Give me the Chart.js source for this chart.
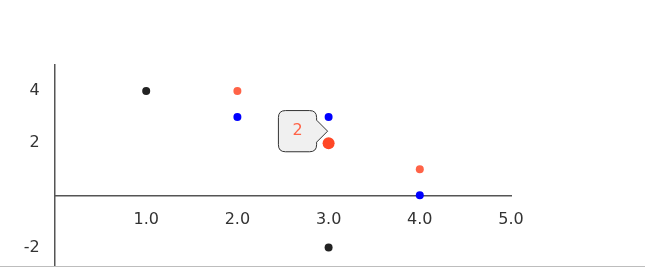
<!DOCTYPE html>
<html><head><meta charset="utf-8">
<script src="https://cdn.jsdelivr.net/npm/chart.js@4/dist/chart.umd.min.js"></script>
<style>
html,body{margin:0;padding:0;background:#fff;}
#wrap{position:relative;width:645px;height:266px;border-bottom:1px solid #bdbdbd;overflow:hidden;}
#inner{position:absolute;left:0;top:0;width:645px;height:279px;}
</style></head>
<body>
<div id="wrap"><div id="inner"><canvas id="c"></canvas></div></div>
<script>
const seriesNames = ['A', 'B', 'C'];
const seriesA = [{x:1, y:4}, {x:3, y:-2}];
const seriesB = [{x:2, y:4}, {x:3, y:2}, {x:4, y:1}];
const seriesC = [{x:2, y:3}, {x:3, y:3}, {x:4, y:0}];
const xTicks = [1, 2, 3, 4, 5];
const yTicks = [-2, 2, 4];
const colors = ['#222222', '#ff6347', '#0000ff'];

Chart.Tooltip.positioners.shifted = function(items) {
  if (!items.length) return false;
  const el = items[0].element;
  return {x: el.x + 1, y: el.y - 12};
};

const chart = new Chart(document.getElementById('c'), {
  type: 'scatter',
  data: {
    datasets: [seriesA, seriesB, seriesC].map((d, i) => ({
      label: seriesNames[i],
      data: d,
      backgroundColor: colors[i],
      borderColor: colors[i],
      pointRadius: 4,
      pointHoverRadius: 6,
      pointBorderWidth: 0,
      pointHoverBorderWidth: 0
    }))
  },
  options: {
    responsive: true,
    maintainAspectRatio: false,
    animation: false,
    events: [],
    layout: {padding: {left: 55, top: 65, right: 134, bottom: 0}},
    plugins: {
      legend: {display: false},
      tooltip: {
        enabled: true,
        position: 'shifted',
        xAlign: 'right',
        yAlign: 'center',
        backgroundColor: '#f0f0f0',
        borderColor: '#333333',
        borderWidth: 1,
        cornerRadius: 7,
        caretSize: 11,
        caretPadding: 2,
        displayColors: false,
        padding: {left: 14, right: 14, top: 11, bottom: 11},
        bodyFont: {family: 'DejaVu Sans', size: 16},
        callbacks: {
          title: () => '',
          label: (ctx) => String(ctx.parsed.y),
          labelTextColor: (ctx) => colors[ctx.datasetIndex]
        }
      }
    },
    scales: {
      x: {
        type: 'linear',
        position: {y: 0},
        min: 0, max: 5,
        afterBuildTicks: (s) => { s.ticks = xTicks.map(v => ({value: v})); },
        grid: {display: false},
        border: {display: true, color: '#555555', width: 1.5},
        ticks: {
          color: '#333333',
          padding: 7,
          maxRotation: 0,
          font: {family: 'DejaVu Sans', size: 16},
          callback: (v) => Number(v).toFixed(1)
        }
      },
      y: {
        type: 'linear',
        position: {x: 0},
        min: -2.73, max: 5,
        afterBuildTicks: (s) => { s.ticks = yTicks.map(v => ({value: v})); },
        grid: {display: false},
        border: {display: true, color: '#555555', width: 1.5},
        ticks: {
          color: '#333333',
          padding: 3,
          font: {family: 'DejaVu Sans', size: 16},
          callback: (v) => String(v) + '\u00a0\u00a0\u00a0'
        }
      }
    }
  }
});

const active = [{datasetIndex: 1, index: 1}];
chart.setActiveElements(active);
chart.tooltip.setActiveElements(active, {x: 0, y: 0});
chart.update('none');
</script>
</body></html>
